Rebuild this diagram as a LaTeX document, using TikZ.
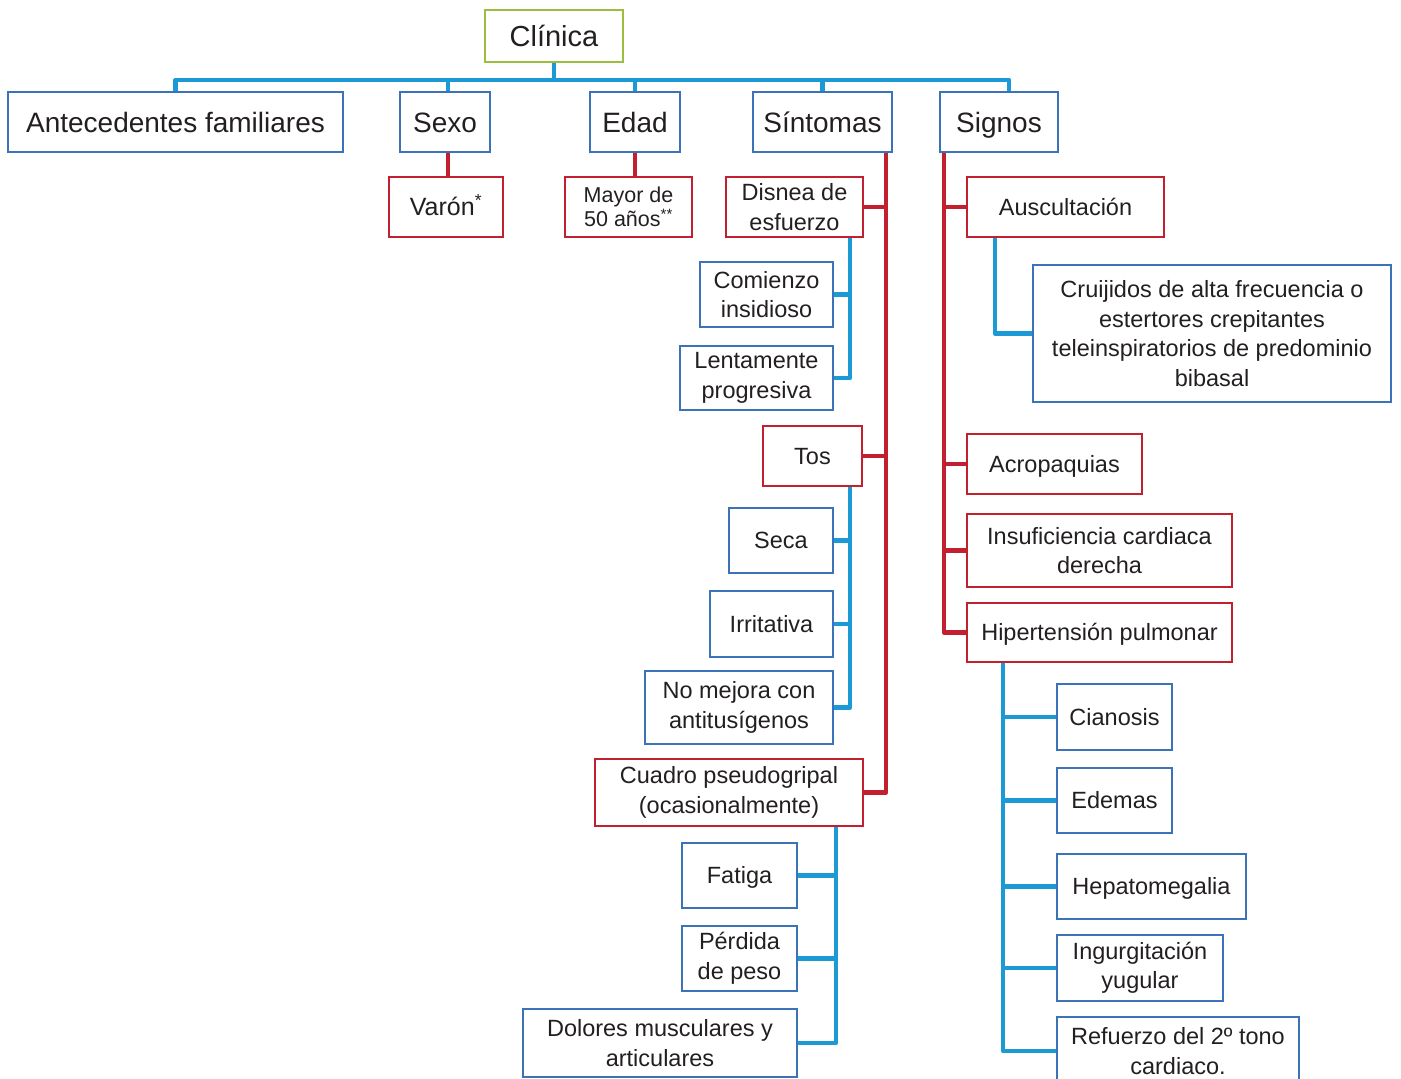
\documentclass[tikz,border=0pt]{standalone}
\usepackage{fontspec}
\setmainfont{Liberation Sans}
\begin{document}
\definecolor{connblue}{HTML}{1C9AD6}
\definecolor{boxblue}{HTML}{3B73B9}
\definecolor{boxred}{HTML}{C3202F}
\definecolor{boxgreen}{HTML}{9DBE3C}
\definecolor{ink}{HTML}{231F20}
\begin{tikzpicture}[x=1pt,y=-1pt,
  base/.style={rectangle,draw,line width=2.4pt,inner sep=0pt,text=ink,
    font=\fontsize{23.5}{29.5}\selectfont},
  bbox/.style={base,draw=boxblue},
  rbox/.style={base,draw=boxred},
  gbox/.style={base,draw=boxgreen},
  multi/.style={align=center},
  one/.style={text height=#1,text depth=0pt},
  one/.default=16.8pt,
  big/.style={font=\fontsize{28}{34}\selectfont,one=20pt},
  sz/.style 2 args={minimum width=#1,minimum height=#2},
  bline/.style={draw=connblue,line width=4.8pt,line join=round},
  rline/.style={draw=boxred,line width=4.8pt,line join=round}]
\useasboundingbox (0,0) rectangle (1401,1079);
\clip (0,0) rectangle (1401,1079);

% root and first level
\node[gbox,font=\fontsize{29}{34}\selectfont,one=20.8pt,sz={138pt}{52pt}] (clin) at (554,36) {Clínica};
\node[bbox,big,sz={335pt}{60pt}] (ant) at (175.5,122) {Antecedentes familiares};
\node[bbox,big,sz={90pt}{60pt}] (sexo) at (445,122) {Sexo};
\node[bbox,big,sz={90pt}{60pt}] (edad) at (635,122) {Edad};
\node[bbox,big,sz={139pt}{60pt}] (sint) at (822.5,122) {Síntomas};
\node[bbox,big,sz={118pt}{60pt}] (sig) at (999,122) {Signos};

% sexo / edad
\node[rbox,font=\fontsize{25}{30}\selectfont,one=17.9pt,sz={114pt}{60pt}] (varon) at (446,207) {Varón\textsuperscript{*}};
\node[rbox,multi,font=\fontsize{21.5}{24}\selectfont,sz={127pt}{60pt}] (mayor) at (628.5,207) {Mayor de\\50 años\textsuperscript{**}};

% síntomas
\node[rbox,multi,sz={137pt}{60pt}] (dis) at (794.5,207) {Disnea de\\esfuerzo};
\node[bbox,multi,sz={133pt}{65pt}] (com) at (766.5,294.5) {Comienzo\\insidioso};
\node[bbox,multi,sz={153pt}{64pt}] (len) at (756.5,378) {Lentamente\\progresiva};
\node[rbox,one,sz={99pt}{60pt}] (tos) at (812.5,456) {Tos};
\node[bbox,one,sz={104pt}{65pt}] (seca) at (781,540.5) {Seca};
\node[bbox,one,sz={123pt}{66pt}] (irr) at (771.5,624) {Irritativa};
\node[bbox,multi,sz={188pt}{73pt}] (nomej) at (739,707.5) {No mejora con\\antitusígenos};
\node[rbox,multi,sz={268pt}{67pt}] (cuad) at (729,792.5) {Cuadro pseudogripal\\(ocasionalmente)};
\node[bbox,one,sz={115pt}{65pt}] (fat) at (739.5,875.5) {Fatiga};
\node[bbox,multi,sz={115pt}{65pt}] (perd) at (739.5,958.5) {Pérdida\\de peso};
\node[bbox,multi,sz={274pt}{68pt}] (dol) at (660,1043) {Dolores musculares y\\articulares};

% signos
\node[rbox,one,sz={197pt}{60pt}] (aus) at (1065.5,207) {Auscultación};
\node[bbox,multi,sz={358pt}{137pt}] (cru) at (1212,333.5) {Cruijidos de alta frecuencia o\\estertores crepitantes\\teleinspiratorios de predominio\\bibasal};
\node[rbox,one,sz={175pt}{60pt}] (acro) at (1054.5,464) {Acropaquias};
\node[rbox,multi,sz={265pt}{73pt}] (insu) at (1099.5,550.5) {Insuficiencia cardiaca\\derecha};
\node[rbox,one,sz={265pt}{59pt}] (hip) at (1099.5,632.5) {Hipertensión pulmonar};
\node[bbox,one,sz={115pt}{66pt}] (cian) at (1114.5,717) {Cianosis};
\node[bbox,one,sz={115pt}{65pt}] (edem) at (1114.5,800.5) {Edemas};
\node[bbox,one,sz={189pt}{65pt}] (hepa) at (1151.5,886.5) {Hepatomegalia};
\node[bbox,multi,sz={166pt}{66pt}] (ingu) at (1140,968) {Ingurgitación\\yugular};
\node[bbox,multi,sz={242pt}{68pt}] (ref) at (1178,1051) {Refuerzo del 2º tono\\cardiaco.};

% trunk x-positions and bus height
\coordinate (bus) at (0,80);
\coordinate (sexdrop) at (448,0);
\coordinate (sigdrop) at (1009,0);
\coordinate (st) at (886,0);
\coordinate (sd) at (850,0);
\coordinate (sc) at (836,0);
\coordinate (gt) at (944,0);
\coordinate (ga) at (995,0);
\coordinate (gh) at (1003,0);

% top bus
\draw[bline] (clin.south) -- (clin.south |- bus);
\draw[bline] (ant.north) -- (ant.north |- bus) -- (sigdrop |- bus) -- (sigdrop |- sig.north);
\draw[bline] (sexdrop |- sexo.north) -- (sexdrop |- bus);
\draw[bline] (edad.north) -- (edad.north |- bus);
\draw[bline] (sint.north) -- (sint.north |- bus);

% sexo / edad links
\draw[rline] (sexdrop |- sexo.south) -- (sexdrop |- varon.north);
\draw[rline] (edad.south) -- (edad.south |- mayor.north);

% síntomas trunk
\draw[rline] (sint.south -| st) -- (st |- cuad.east) -- (cuad.east);
\draw[rline] (dis.east) -- (dis.east -| st);
\draw[rline] (tos.east) -- (tos.east -| st);

\draw[bline] (sd |- dis.south) -- (sd |- len.east) -- (len.east);
\draw[bline] (com.east) -- (com.east -| sd);
\draw[bline] (sd |- tos.south) -- (sd |- nomej.east) -- (nomej.east);
\draw[bline] (seca.east) -- (seca.east -| sd);
\draw[bline] (irr.east) -- (irr.east -| sd);
\draw[bline] (sc |- cuad.south) -- (sc |- dol.east) -- (dol.east);
\draw[bline] (fat.east) -- (fat.east -| sc);
\draw[bline] (perd.east) -- (perd.east -| sc);

% signos trunk
\draw[rline] (sig.south -| gt) -- (gt |- hip.west) -- (hip.west);
\draw[rline] (aus.west) -- (aus.west -| gt);
\draw[rline] (acro.west) -- (acro.west -| gt);
\draw[rline] (insu.west) -- (insu.west -| gt);

\draw[bline] (ga |- aus.south) -- (ga |- cru.west) -- (cru.west);
\draw[bline] (gh |- hip.south) -- (gh |- ref.west) -- (ref.west);
\draw[bline] (cian.west) -- (cian.west -| gh);
\draw[bline] (edem.west) -- (edem.west -| gh);
\draw[bline] (hepa.west) -- (hepa.west -| gh);
\draw[bline] (ingu.west) -- (ingu.west -| gh);
\end{tikzpicture}
\end{document}
